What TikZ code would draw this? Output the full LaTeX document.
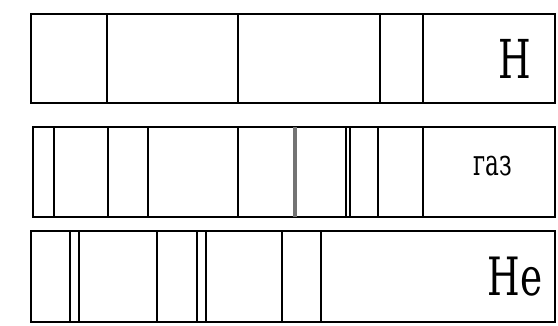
\documentclass[tikz,border=0pt]{standalone}
\usepackage{fontspec}
\newfontfamily\lblfont{DejaVu Serif}
\usepackage{tikz}

\begin{document}
\begin{tikzpicture}[
  x=1pt, y=-1pt,
  strip/.style={draw, line width=2.4pt},
  sline/.style={line width=2.4pt},
  gline/.style={line width=3.2pt, black!55},
  lbl/.style={inner sep=0pt, anchor=center, font=\lblfont}
]
\useasboundingbox (0,0) rectangle (558,325);
% hydrogen
\draw[strip] (31,14) rectangle (555,103);
\foreach \x in {107,238,380,423}
  \draw[sline] (\x,14) -- (\x,103);
\node[lbl] (h) at (515,59) {\scalebox{0.85}[1.22]{\fontsize{44}{44}\selectfont H}};
% unknown gas
\draw[strip] (33,127) rectangle (555,217);
\foreach \x in {54,108,148,238,346,350,378,423}
  \draw[sline] (\x,127) -- (\x,217);
\draw[gline] (295,127) -- (295,217);
\node[lbl] (gaz) at (493,166) {\scalebox{0.8}[1.25]{\fontsize{29}{29}\selectfont газ}};
% helium
\draw[strip] (31,231) rectangle (555,322);
\foreach \x in {70,79,157,197,206,282,321}
  \draw[sline] (\x,231) -- (\x,322);
\node[lbl] (he) at (515,277) {\scalebox{0.85}[1.2]{\fontsize{44}{44}\selectfont He}};
\end{tikzpicture}
\end{document}
